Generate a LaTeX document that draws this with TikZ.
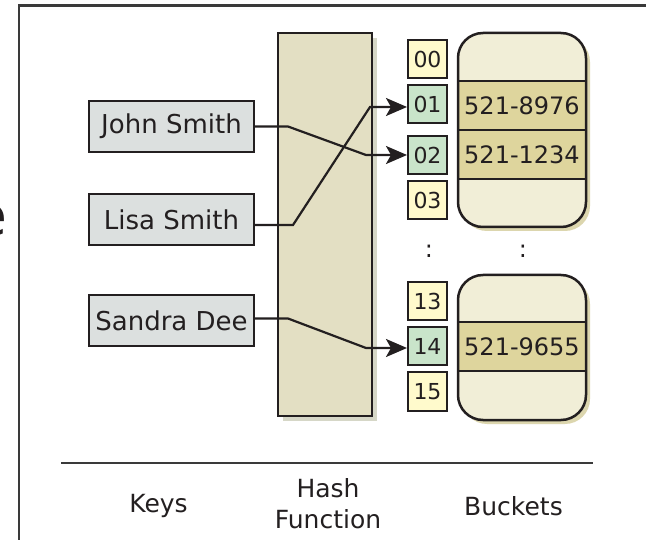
\documentclass[tikz,border=0pt]{standalone}
\usepackage{fontspec}
\setmainfont{DejaVu Sans}
\usetikzlibrary{arrows.meta}
\definecolor{ink}{HTML}{231F20}
\definecolor{keyfill}{HTML}{DCE0DF}
\definecolor{hashfill}{HTML}{E3DFC3}
\definecolor{hashshadow}{HTML}{D6D7C7}
\definecolor{slotyellow}{HTML}{FFFACC}
\definecolor{slotgreen}{HTML}{C9E4CA}
\definecolor{bucketfill}{HTML}{F1EED7}
\definecolor{bandfill}{HTML}{DED59D}
\definecolor{bucketshadow}{HTML}{DCD6AE}
\definecolor{framegray}{HTML}{3A3A3A}
\begin{document}
\begin{tikzpicture}[x=1pt,y=-1pt,
  keybox/.style={draw=ink, line width=2pt, fill=keyfill, minimum width=165pt, minimum height=51pt, inner sep=0pt, font=\fontsize{26}{30}\selectfont, text=ink},
  slotbox/.style={draw=ink, line width=2pt, minimum width=39pt, minimum height=38pt, inner sep=0pt, font=\fontsize{22}{25}\selectfont, text=ink},
  yslot/.style={slotbox, fill=slotyellow},
  gslot/.style={slotbox, fill=slotgreen},
  band/.style={draw=ink, line width=1.5pt, fill=bandfill, minimum width=128pt, minimum height=49pt, inner sep=0pt, font=\fontsize{24}{28}\selectfont, text=ink},
  hashbox/.style={draw=ink, line width=2pt, fill=hashfill, minimum width=94pt, minimum height=383pt, inner sep=0pt},
  bucketline/.style={draw=ink, line width=2.5pt, rounded corners=25pt},
  link/.style={draw=ink, line width=2.2pt, -{Stealth[length=21pt,width=18pt,inset=5pt]}},
  caption/.style={font=\fontsize{25}{31}\selectfont, text=ink, align=center},
  dotsnode/.style={font=\fontsize{24}{28}\selectfont, text=ink, inner sep=0pt},
  frameline/.style={draw=framegray, line width=2.5pt}
]
\clip (0,0) rectangle (646,540);
\useasboundingbox (0,0) rectangle (646,540);
\fill[white] (0,0) rectangle (646,540);

% frame
\draw[frameline] (646,5.5) -- (19,5.5) -- (19,541);
\node[anchor=base east, inner sep=0pt, font=\fontsize{55}{60}\selectfont, text=ink] (cut) at (8,236) {e};

% hash function
\fill[hashshadow] (283,38) rectangle (377,421);
\node[hashbox] (hash) at (325,224.5) {};

% keys
\node[keybox] (john) at (171.5,126.5) {John Smith};
\node[keybox] (lisa) at (171.5,219.5) {Lisa Smith};
\node[keybox] (sandra) at (171.5,320.5) {Sandra Dee};

% slots
\node[yslot] (s00) at (427.5,59) {00};
\node[gslot] (s01) at (427.5,104.5) {01};
\node[gslot] (s02) at (427.5,155) {02};
\node[yslot] (s03) at (427.5,200) {03};
\node[yslot] (s13) at (427.5,301.5) {13};
\node[gslot] (s14) at (427.5,346) {14};
\node[yslot] (s15) at (427.5,391.5) {15};

% bucket 1
\fill[bucketshadow, rounded corners=25pt] (462,37) rectangle (590,231);
\fill[bucketfill, rounded corners=25pt] (458,33) rectangle (586,227);
\node[band] (b1) at (522,105.5) {521-8976};
\node[band] (b2) at (522,154.5) {521-1234};
\draw[bucketline] (458,33) rectangle (586,227);

% bucket 2
\fill[bucketshadow, rounded corners=25pt] (462,279) rectangle (590,424);
\fill[bucketfill, rounded corners=25pt] (458,275) rectangle (586,420);
\node[band] (b3) at (522,346.5) {521-9655};
\draw[bucketline] (458,275) rectangle (586,420);

% ellipsis
\node[dotsnode] (d1) at (429,251) {:};
\node[dotsnode] (d2) at (523,251) {:};

% links
\draw[link] (john.east) -- ++(33,0) -- ([xshift=-41pt]s02.west) -- (s02.west);
\draw[link] ([yshift=-5.5pt]lisa.east) -- ++(38,0) -- ([xshift=-37pt,yshift=-2.5pt]s01.west) -- ([yshift=-2.5pt]s01.west);
\draw[link] ([yshift=2pt]sandra.east) -- ++(33,0) -- ([xshift=-41pt,yshift=-2pt]s14.west) -- ([yshift=-2pt]s14.west);

% bottom legend
\draw[frameline] (61,463) -- (593,463);
\node[caption] (keys) at (158.5,506) {Keys};
\node[caption] (hf) at (328,504) {Hash\\Function};
\node[caption] (bk) at (513.5,506) {Buckets};
\end{tikzpicture}
\end{document}
